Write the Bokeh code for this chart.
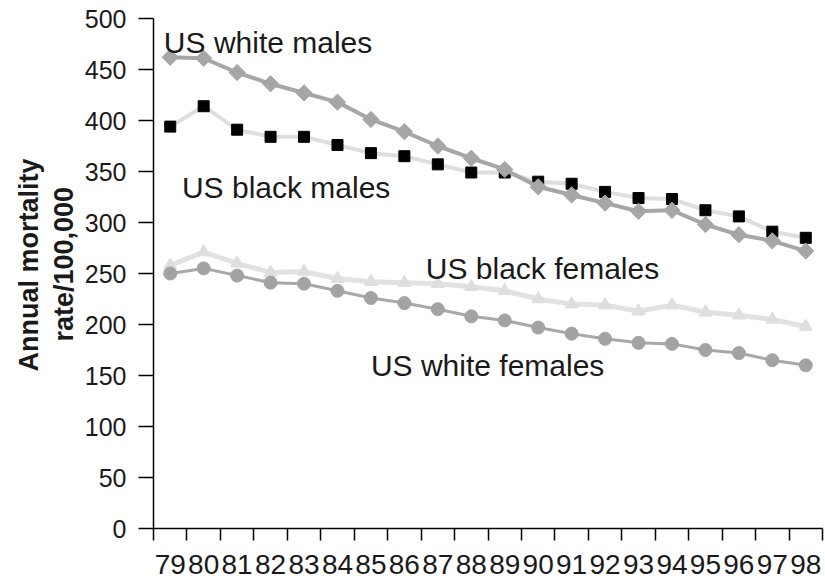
from bokeh.plotting import figure
from bokeh.models import FixedTicker, Label, Range1d, ColumnDataSource, Title
from bokeh.embed import file_html
from bokeh.resources import INLINE
import math

years = ["79", "80", "81", "82", "83", "84", "85", "86", "87", "88",
         "89", "90", "91", "92", "93", "94", "95", "96", "97", "98"]
white_males = [462, 461, 447, 436, 427, 418, 401, 389, 375, 363,
               352, 335, 327, 319, 311, 312, 298, 288, 282, 272]
black_males = [394, 414, 391, 384, 384, 376, 368, 365, 357, 349,
               349, 340, 338, 330, 324, 323, 312, 306, 291, 285]
black_females = [258, 271, 260, 251, 252, 245, 242, 241, 240, 237,
                 233, 225, 220, 219, 213, 219, 212, 209, 205, 198]
white_females = [250, 255, 248, 241, 240, 233, 226, 221, 215, 208,
                 204, 197, 191, 186, 182, 181, 175, 172, 165, 160]
y_ticks = list(range(0, 501, 50))

idx = list(range(len(years)))
src = ColumnDataSource(dict(x=idx, wm=white_males, bm=black_males,
                            bf=black_females, wf=white_females))

FONT = "Liberation Sans, Arial, Helvetica, sans-serif"

p = figure(frame_width=669, frame_height=510, output_backend="svg",
           toolbar_location=None, min_border_left=153, min_border_top=18,
           min_border_right=2, min_border_bottom=52,
           x_range=Range1d(-0.5, len(years) - 0.5), y_range=Range1d(0, 500))
p.outline_line_color = None
p.grid.visible = False
p.background_fill_color = "white"

# series: black females, white females, black males, white males
p.line("x", "bf", source=src, line_color="#e2e2e2", line_width=5)
p.scatter("x", "bf", source=src, marker="triangle", size=13,
          fill_color="#dedede", line_color="#dedede")
p.line("x", "wf", source=src, line_color="#a8a8a8", line_width=3)
p.scatter("x", "wf", source=src, marker="circle", size=13,
          fill_color="#a3a3a3", line_color="#a3a3a3")
p.line("x", "bm", source=src, line_color="#dedede", line_width=4)
p.scatter("x", "bm", source=src, marker="square", size=11,
          fill_color="black", line_color="black")
p.line("x", "wm", source=src, line_color="#a6a6a6", line_width=4)
p.scatter("x", "wm", source=src, marker="square", angle=math.pi / 4, size=11.5,
          fill_color="#a6a6a6", line_color="#a6a6a6")

# x axis
xa = p.xaxis[0]
xa.ticker = FixedTicker(ticks=idx, minor_ticks=[i - 0.5 for i in range(len(years) + 1)])
xa.major_label_overrides = {i: y for i, y in zip(idx, years)}
xa.major_tick_out = 0
xa.major_tick_in = 0
xa.minor_tick_out = 12
xa.minor_tick_in = 0
xa.minor_tick_line_color = "black"
xa.minor_tick_line_width = 1.5
xa.axis_line_width = 1.5
xa.axis_line_color = "black"
xa.major_label_text_font = FONT
xa.major_label_text_font_size = "28px"
xa.major_label_text_color = "#1a1a1a"
xa.major_label_standoff = 14

# y axis
ya = p.yaxis[0]
ya.ticker = FixedTicker(ticks=y_ticks)
ya.minor_tick_line_color = None
ya.major_tick_out = 15
ya.major_tick_in = 0
ya.major_tick_line_width = 1.5
ya.major_tick_line_color = "black"
ya.axis_line_width = 1.5
ya.axis_line_color = "black"
ya.major_label_text_font = FONT
ya.major_label_text_font_size = "25px"
ya.major_label_text_color = "#1a1a1a"
ya.major_label_standoff = 12

# y axis title (two lines), as left-side titles
for txt, so, off in [("rate/100,000", 6, 187), ("Annual mortality", 0, 157)]:
    p.add_layout(Title(text=txt, align="left", offset=off, standoff=so,
                       text_font=FONT, text_font_style="bold",
                       text_font_size="27px", text_color="#1a1a1a"), "left")

# series labels
for txt, xv, yv in [("US white males", -0.19, 476.5),
                    ("US black males", 0.35, 334.6),
                    ("US black females", 7.64, 254.6),
                    ("US white females", 6.0, 159.8)]:
    p.add_layout(Label(x=xv, y=yv, text=txt, text_align="left",
                       text_baseline="alphabetic", text_font=FONT,
                       text_font_size="30px", text_color="#1a1a1a"))

open("out.html", "w").write(file_html(p, INLINE))
